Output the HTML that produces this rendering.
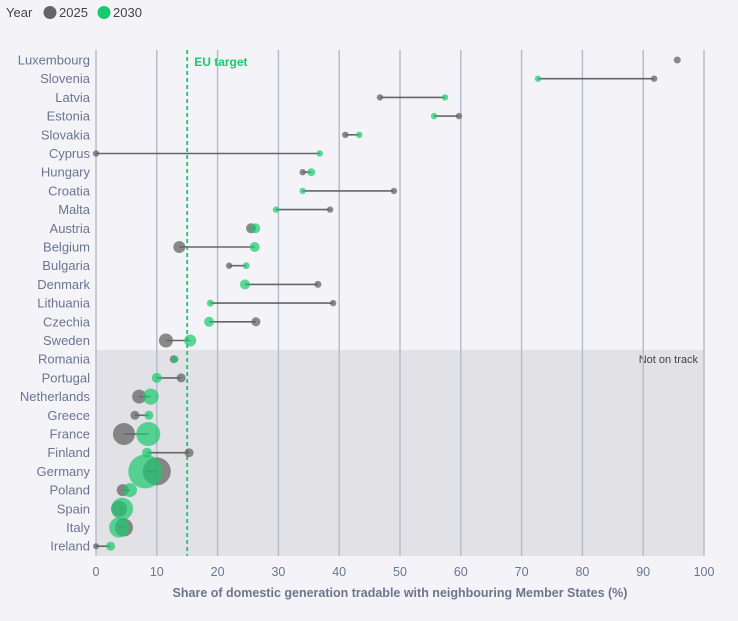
<!DOCTYPE html>
<html><head><meta charset="utf-8">
<style>
html,body{margin:0;padding:0;background:#f4f4f8;width:738px;height:621px;overflow:hidden;font-family:"Liberation Sans",sans-serif;}
</style></head>
<body>
<svg id="chart" width="738" height="621" viewBox="0 0 738 621" xmlns="http://www.w3.org/2000/svg">
<g>
<text x="6" y="17" font-size="13" fill="#444">Year</text>
<circle cx="50" cy="12.5" r="6.5" fill="#666"/>
<text x="59" y="17" font-size="13" fill="#444">2025</text>
<circle cx="104" cy="12.5" r="6.5" fill="#19c96e"/>
<text x="113" y="17" font-size="13" fill="#444">2030</text>
</g>
</svg>
<script>
const countries=["Luxembourg","Slovenia","Latvia","Estonia","Slovakia","Cyprus","Hungary","Croatia","Malta","Austria","Belgium","Bulgaria","Denmark","Lithuania","Czechia","Sweden","Romania","Portugal","Netherlands","Greece","France","Finland","Germany","Poland","Spain","Italy","Ireland"];
const v2025=[95.6,91.8,46.7,59.7,41,0,34,49,38.5,25.5,13.7,21.9,36.5,39,26.3,11.5,12.8,14,7.1,6.4,4.6,15.3,10,4.4,3.8,4.6,0];
const v2030=[null,72.7,57.4,55.6,43.3,36.8,35.4,34,29.6,26.2,26.1,24.7,24.5,18.8,18.6,15.5,13,10,9,8.7,8.6,8.4,8.1,5.6,4.3,3.8,2.4];
const r2025=[3.5,3.2,3.2,3.2,3.2,3.2,3.2,3.2,3.2,5,6,3.2,3.5,3.2,4.5,7,4,4.5,7,4.5,11,4.5,14,6,8,9,3];
const r2030=[0,3.2,3.2,3.2,3.2,3.2,4,3.2,3.2,5,5,3.5,5,3.5,5,6,3.5,5,8,4.5,12,5,17,7,11,10,4.5];
const xTicks=[0,10,20,30,40,50,60,70,80,90,100];
const euTarget=15;
const offTrackStart=16;

const NS="http://www.w3.org/2000/svg";
const svg=document.getElementById('chart');
const x0=96,x1=704,yTop=50,yBot=556,row0=60,rowStep=18.7;
const xs=v=>x0+(v/100)*(x1-x0);
const ys=i=>row0+i*rowStep;
function mk(tag,attrs,parent){const e=document.createElementNS(NS,tag);for(const k in attrs)e.setAttribute(k,attrs[k]);(parent||svg).appendChild(e);return e;}

const bandTop=(ys(offTrackStart-1)+ys(offTrackStart))/2;
const band=mk('rect',{x:x0,y:bandTop,width:x1-x0,height:yBot-bandTop,fill:'#e2e1e6'});


const bt=mk('text',{x:698,y:ys(offTrackStart)+4,'font-size':11,fill:'#444','text-anchor':'end'});
bt.textContent='Not on track';



xTicks.forEach(t=>{
  const l=mk('line',{x1:xs(t),x2:xs(t),y1:yTop,y2:yBot,stroke:'#b9bccb','stroke-width':1.5});
  
  
  const tx=mk('text',{x:xs(t),y:576,'font-size':12.5,fill:'#6b7590','text-anchor':'middle'});
  tx.textContent=t;
  
  
});
const at=mk('text',{x:400,y:597,'font-size':12.5,'font-weight':'bold',fill:'#6b7590','text-anchor':'middle'});
at.textContent='Share of domestic generation tradable with neighbouring Member States (%)';



const eu=mk('line',{x1:xs(euTarget),x2:xs(euTarget),y1:yTop,y2:yBot,stroke:'#19c96e','stroke-width':1.8,'stroke-dasharray':'4,3'});


const et=mk('text',{x:xs(euTarget)+7,y:66,'font-size':12,'font-weight':'bold',fill:'#19c96e'});
et.textContent='EU target';



countries.forEach((c,i)=>{
  const y=ys(i);
  const lab=mk('text',{x:90,y:y+4.5,'font-size':13,fill:'#6b7590','text-anchor':'end'});
  lab.textContent=c;
  
  
  if(v2030[i]!==null){
    const ln=mk('line',{x1:xs(v2025[i]),x2:xs(v2030[i]),y1:y,y2:y,stroke:'#666','stroke-width':1.6});
    
    
  }
  const g=mk('circle',{cx:xs(v2025[i]),cy:y,r:r2025[i],fill:'#666','fill-opacity':0.75});
  
  
  if(v2030[i]!==null){
    const gr=mk('circle',{cx:xs(v2030[i]),cy:y,r:r2030[i],fill:'#19c96e','fill-opacity':0.7});
    
    
  }
});
</script>
</body></html>
